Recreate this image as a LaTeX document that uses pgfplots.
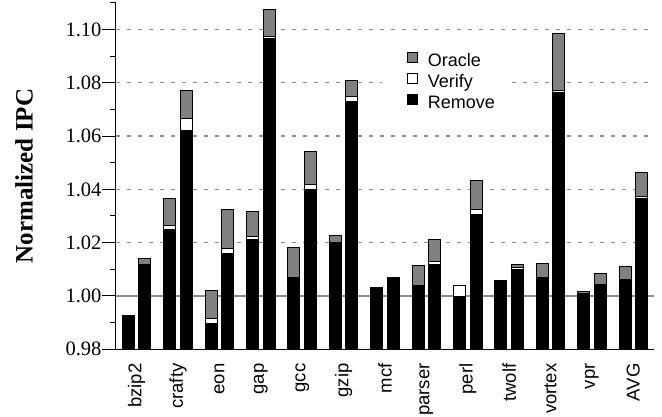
\documentclass[border=0pt]{standalone}
\usepackage{fontspec}
\setmainfont{Liberation Serif}
\newfontfamily\arialf{Liberation Sans}
\usepackage{pgfplots}
\usepackage{pgfplotstable}
\pgfplotsset{compat=1.18}

\definecolor{oraclegray}{HTML}{808080}
\definecolor{gridgray}{HTML}{8C8C8C}

% Normalized IPC per benchmark, two configurations each (left bar at i-0.2, right bar at i+0.2).
% R = Remove, V = Verify (cumulative), O = Oracle (cumulative)
\pgfplotstableread{
x     R       V       O
-0.2  0.9925  0.9925  0.9925
0.2   1.0117  1.0117  1.0139
0.8   1.0248  1.0264  1.0367
1.2   1.0619  1.0665  1.0769
1.8   0.9895  0.9914  1.0020
2.2   1.0158  1.0177  1.0324
2.8   1.0213  1.0223  1.0318
3.2   1.0966  1.0975  1.1074
3.8   1.0068  1.0068  1.0183
4.2   1.0400  1.0417  1.0542
4.8   1.0199  1.0199  1.0228
5.2   1.0728  1.0747  1.0808
5.8   1.0030  1.0030  1.0030
6.2   1.0071  1.0071  1.0071
6.8   1.0035  1.0041  1.0115
7.2   1.0117  1.0128  1.0213
7.8   0.9997  1.0039  1.0039
8.2   1.0307  1.0324  1.0433
8.8   1.0053  1.0053  1.0057
9.2   1.0099  1.0108  1.0117
9.8   1.0070  1.0070  1.0121
10.2  1.0763  1.0772  1.0985
10.8  1.0010  1.0010  1.0017
11.2  1.0044  1.0044  1.0086
11.8  1.0062  1.0062  1.0111
12.2  1.0367  1.0374  1.0462
}\ipcdata

\begin{document}
\begin{tikzpicture}
\begin{axis}[
  scale only axis, width=538pt, height=346.6pt,
  xmin=-0.5, xmax=12.5, ymin=0.98, ymax=1.11,
  ybar, bar width=0.29, bar shift=0pt,
  axis lines=left, axis line style={-, line width=1pt, black},
  xtick={0,1,2,3,4,5,6,7,8,9,10,11,12},
  xticklabels={bzip2,crafty,eon,gap,gcc,gzip,mcf,parser,perl,twolf,vortex,vpr,AVG},
  x tick style={draw=none},
  xticklabel style={font=\arialf\fontsize{18.5}{18.5}\selectfont, rotate=90, anchor=east, inner sep=0pt},
  ytick={0.98,1.00,1.02,1.04,1.06,1.08,1.10},
  minor ytick={0.99,1.01,1.03,1.05,1.07,1.09,1.11},
  tick align=outside, major tick length=14pt, minor tick length=6pt,
  y tick style={black, line width=1pt},
  yticklabel style={font=\fontsize{20.5}{20.5}\selectfont, xshift=3pt},
  y tick label style={/pgf/number format/.cd, fixed, fixed zerofill, precision=2, assume math mode=true},
  ymajorgrids, major grid style={gridgray, dash pattern=on 4pt off 7pt, line width=1.2pt},
  ylabel={Normalized IPC},
  ylabel style={font=\fontsize{25}{25}\selectfont\bfseries, at={(axis description cs:-0.1543,0.5)}, anchor=south, inner sep=0pt},
  legend style={at={(0.494,0.873)}, anchor=north west, draw=none, fill=white,
    inner xsep=10pt, inner ysep=5pt, row sep=0pt,
    font=\arialf\fontsize{18}{18}\selectfont,
    nodes={inner sep=2pt, text height=13pt, text depth=4pt},
    /tikz/every odd column/.append style={column sep=8pt}},
  legend cell align=left,
  legend image code/.code={\path (-15pt,0pt); \draw[#1, draw=black, line width=1pt] (0pt,-0.5pt) rectangle (10pt,9.5pt);},
]
% baseline at 1.00
\addplot[sharp plot, no marks, forget plot, draw=gridgray, line width=1.3pt] coordinates {(-0.5,1.00) (12.5,1.00)};

\addplot[fill=oraclegray, draw=black, line width=1pt] table[x=x, y=O]{\ipcdata};
\addlegendentry{Oracle}
\addplot[fill=white, draw=black, line width=1pt] table[x=x, y=V]{\ipcdata};
\addlegendentry{Verify}
\addplot[fill=black, draw=black, line width=1pt] table[x=x, y=R]{\ipcdata};
\addlegendentry{Remove}
\end{axis}
\pgfresetboundingbox
\path (current axis.south west) ++(-116pt,-66.7pt) rectangle ++(662pt,416pt);
\end{tikzpicture}
\end{document}
